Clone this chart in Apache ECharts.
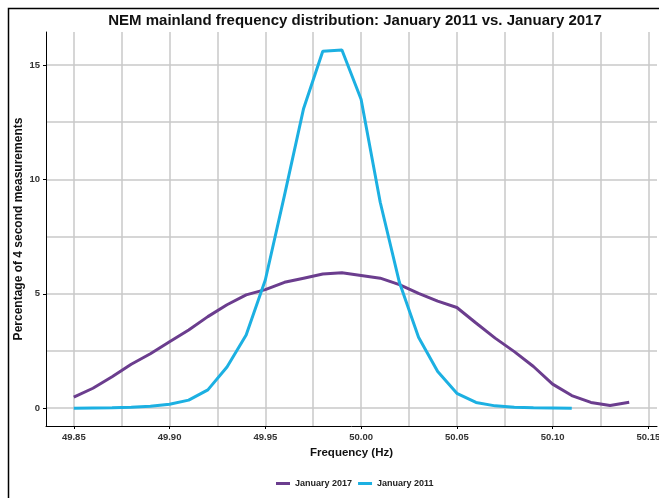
<!DOCTYPE html>
<html>
<head>
<meta charset="utf-8">
<script src="https://cdn.jsdelivr.net/npm/echarts@6/dist/echarts.min.js"></script>
<style>
  html, body { margin: 0; padding: 0; background: #fff; }
  #chart { width: 659px; height: 498px; }
</style>
</head>
<body>
<div id="chart"></div>
<script>
// frequency bins (Hz)
const freq2017 = [49.85, 49.86, 49.87, 49.88, 49.89, 49.90, 49.91, 49.92, 49.93, 49.94,
  49.95, 49.96, 49.97, 49.98, 49.99, 50.00, 50.01, 50.02, 50.03, 50.04,
  50.05, 50.06, 50.07, 50.08, 50.09, 50.10, 50.11, 50.12, 50.13, 50.14];
const pct2017 = [0.48, 0.87, 1.37, 1.92, 2.38, 2.9, 3.42, 4.0, 4.52, 4.95,
  5.18, 5.5, 5.68, 5.86, 5.92, 5.8, 5.68, 5.4, 5.02, 4.68,
  4.4, 3.72, 3.06, 2.47, 1.82, 1.05, 0.55, 0.25, 0.12, 0.26];

const freq2011 = [49.85, 49.86, 49.87, 49.88, 49.89, 49.90, 49.91, 49.92, 49.93, 49.94,
  49.95, 49.96, 49.97, 49.98, 49.99, 50.00, 50.01, 50.02, 50.03, 50.04,
  50.05, 50.06, 50.07, 50.08, 50.09, 50.10, 50.11];
const pct2011 = [0.0, 0.01, 0.02, 0.04, 0.08, 0.17, 0.35, 0.8, 1.8, 3.2,
  5.6, 9.3, 13.1, 15.6, 15.65, 13.5, 9.0, 5.5, 3.1, 1.6,
  0.65, 0.25, 0.1, 0.04, 0.02, 0.01, 0.0];

// axis ticks
const xTicks = [49.85, 49.90, 49.95, 50.00, 50.05, 50.10, 50.15];
const xGrid = [49.85, 49.875, 49.90, 49.925, 49.95, 49.975, 50.00, 50.025, 50.05, 50.075, 50.10, 50.125, 50.15];
const yTicks = [0, 5, 10, 15];
const yGrid = [0, 2.5, 5, 7.5, 10, 12.5, 15];

const font = 'Liberation Sans';
const gridColor = '#c8c8c8';
const xMin = 49.8355, xMax = 50.1545;
const yMin = -0.78, yMax = 16.44;

const chart = echarts.init(document.getElementById('chart'));

function pairs(xs, ys) {
  return xs.map((x, i) => [x, ys[i]]);
}

const option = {
  backgroundColor: '#fff',
  animation: false,
  title: {
    text: 'NEM mainland frequency distribution: January 2011 vs. January 2017',
    left: 350,
    textAlign: 'center',
    top: 8,
    textStyle: { fontFamily: font, fontWeight: 'bold', fontSize: 15, color: '#111' }
  },
  graphic: [{
    type: 'rect',
    shape: { x: 8.5, y: 8.5, width: 700, height: 600 },
    style: { fill: null, stroke: '#000', lineWidth: 1.5 },
    silent: true
  }],
  legend: {
    bottom: 5,
    left: 271,
    itemWidth: 14,
    itemHeight: 3,
    itemGap: 6,
    icon: 'rect',
    textStyle: { fontFamily: font, fontWeight: 'bold', fontSize: 9, color: '#222' },
    data: ['January 2017', 'January 2011']
  },
  grid: { left: 46, right: 2, top: 32, bottom: 72, containLabel: false, outerBoundsMode: 'none' },
  xAxis: [{
    type: 'value',
    min: xMin,
    max: xMax,
    name: 'Frequency (Hz)',
    nameLocation: 'middle',
    nameGap: 21,
    nameMoveOverlap: false,
    nameTextStyle: { fontFamily: font, fontWeight: 'bold', fontSize: 11.5, color: '#111' },
    axisLine: { onZero: false, lineStyle: { color: '#000', width: 1 } },
    axisTick: { show: true, length: 3, customValues: xTicks, lineStyle: { color: '#000' } },
    axisLabel: {
      customValues: xTicks,
      margin: 6,
      formatter: v => v.toFixed(2),
      fontFamily: font, fontWeight: 'bold', fontSize: 9.5, color: '#333'
    },
    splitLine: { show: false }
  }, {
    type: 'value',
    min: xMin,
    max: xMax,
    position: 'bottom',
    axisLine: { show: false },
    axisTick: { show: false, customValues: xGrid },
    axisLabel: { show: false },
    splitLine: { show: true, lineStyle: { color: gridColor, width: 1.5 } }
  }],
  yAxis: [{
    type: 'value',
    min: yMin,
    max: yMax,
    name: 'Percentage of 4 second measurements',
    nameLocation: 'middle',
    nameGap: 21,
    nameMoveOverlap: false,
    nameTextStyle: { fontFamily: font, fontWeight: 'bold', fontSize: 12, color: '#111' },
    axisLine: { show: true, onZero: false, lineStyle: { color: '#000', width: 1 } },
    axisTick: { show: true, length: 3, customValues: yTicks, lineStyle: { color: '#000' } },
    axisLabel: {
      customValues: yTicks,
      margin: 6,
      fontFamily: font, fontWeight: 'bold', fontSize: 9.5, color: '#333'
    },
    splitLine: { show: false }
  }, {
    type: 'value',
    min: yMin,
    max: yMax,
    position: 'left',
    axisLine: { show: false },
    axisTick: { show: false, customValues: yGrid },
    axisLabel: { show: false },
    splitLine: { show: true, lineStyle: { color: gridColor, width: 1.5 } }
  }],
  series: [{
    name: 'January 2017',
    type: 'line',
    xAxisIndex: 0,
    yAxisIndex: 0,
    data: pairs(freq2017, pct2017),
    symbol: 'none',
    lineStyle: { color: '#6b3d8e', width: 3 },
    itemStyle: { color: '#6b3d8e' }
  }, {
    name: 'January 2011',
    type: 'line',
    xAxisIndex: 0,
    yAxisIndex: 0,
    data: pairs(freq2011, pct2011),
    symbol: 'none',
    lineStyle: { color: '#1cb0e2', width: 3 },
    itemStyle: { color: '#1cb0e2' }
  }]
};

chart.setOption(option);
</script>
</body>
</html>
